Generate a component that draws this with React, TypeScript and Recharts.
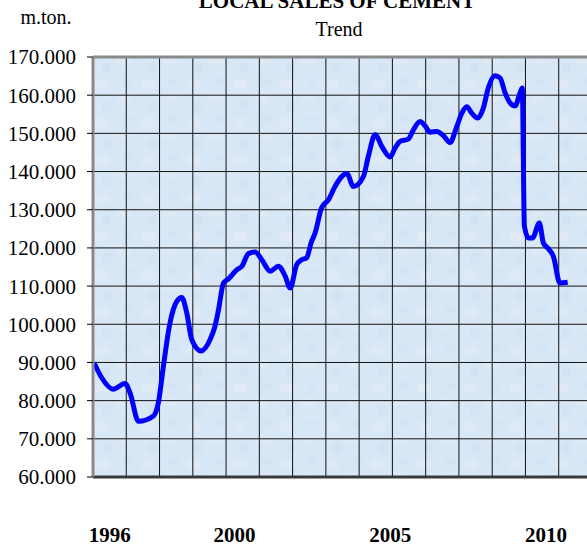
import { LineChart, Line, XAxis, YAxis, CartesianGrid, ReferenceLine } from "recharts";

// time axis, decimal years
const periods = [
  1995.49, 1995.74, 1996.11, 1996.49, 1996.65, 1996.92, 1997.4, 1997.56, 1997.72, 1997.93,
  1998.15, 1998.31, 1998.47, 1998.63, 1998.93, 1999.22, 1999.38, 1999.49, 1999.65, 1999.81,
  2000.08, 2000.24, 2000.45, 2000.66, 2000.88, 2001.15, 2001.41, 2001.63, 2001.79, 2002.0,
  2002.16, 2002.32, 2002.46, 2002.59, 2002.8, 2003.02, 2003.23, 2003.61, 2003.82, 2004.14,
  2004.3, 2004.52, 2004.73, 2005.0, 2005.16, 2005.32, 2005.58, 2005.75, 2005.96, 2006.12,
  2006.28, 2006.5, 2006.71, 2006.92, 2007.14, 2007.3, 2007.46, 2007.62, 2007.81, 2007.99,
  2008.15, 2008.37, 2008.53, 2008.69, 2008.85, 2009.01, 2009.17, 2009.24, 2009.31, 2009.44,
  2009.57, 2009.79, 2009.92, 2010.1, 2010.24, 2010.45, 2010.7,
];

// local sales, m.ton.
const sales = [
  90000, 86000, 83000, 84500, 82000, 74600, 76000, 79500, 89000, 100300,
  106000, 107000, 103000, 96000, 93000, 96000, 99600, 103800, 110800, 111900,
  114300, 115200, 118500, 118900, 116900, 113900, 115200, 112600, 109500, 115600,
  116900, 117400, 121300, 123900, 130500, 132600, 136100, 139500, 136100, 138700,
  144000, 149700, 146600, 143800, 146200, 147900, 148500, 151000, 153100, 152000,
  150300, 150500, 149400, 147600, 151800, 155300, 157000, 155300, 154000, 156600,
  161900, 165100, 164500, 160600, 158000, 157200, 160600, 161900, 125700, 122600,
  122600, 126500, 121300, 119600, 117800, 110800, 111000,
];

const yearTicks = [1996, 2000, 2005, 2010];
const salesTicks = [60000, 70000, 80000, 90000, 100000, 110000, 120000, 130000, 140000, 150000, 160000, 170000];
const GRID_COLS = 15;

const data = periods.map((p, i) => ({ period: p, sales: sales[i] }));

const SERIF = '"Liberation Serif", "Times New Roman", serif';

const fmt = (v: number) => `${Math.floor(v / 1000)}.${String(v % 1000).padStart(3, "0")}`;

export default function App() {
  return (
    <div
      style={{
        position: "absolute",
        left: 0,
        top: 0,
        width: 587,
        height: 549,
        overflow: "hidden",
        background: "#fff",
      }}
    >
      <LineChart width={600} height={549} data={data} margin={{ top: 57, right: 8, bottom: 0, left: 0 }}>
        <defs>
          <pattern id="tex" width="46" height="38" patternUnits="userSpaceOnUse">
            <rect width="46" height="38" fill="#d8e7f5" />
            <rect x="3" y="4" width="14" height="9" rx="4" fill="#dfeaf6" />
            <rect x="24" y="18" width="16" height="8" rx="4" fill="#dee9f6" />
            <rect x="10" y="25" width="9" height="10" rx="4" fill="#d3e3f3" />
            <rect x="31" y="2" width="10" height="7" rx="3" fill="#d4e4f4" />
          </pattern>
        </defs>
        <XAxis
          type="number"
          dataKey="period"
          domain={[1995.46, 2011.48]}
          allowDataOverflow
          ticks={yearTicks}
          axisLine={false}
          tickLine={false}
          tickSize={0}
          tickMargin={50}
          height={72}
          tick={{ fontFamily: SERIF, fontSize: 21, fontWeight: "bold", fill: "#000" }}
        />
        <YAxis
          width={93}
          domain={[60000, 170000]}
          ticks={salesTicks}
          tickFormatter={fmt}
          tickSize={6}
          tickMargin={11}
          axisLine={{ stroke: "#8a8a8a", strokeWidth: 3 }}
          tickLine={{ stroke: "#000" }}
          tick={{ fontFamily: SERIF, fontSize: 21, fill: "#000" }}
        />
        <CartesianGrid
          stroke="#111"
          strokeWidth={1}
          fill="url(#tex)"
          fillOpacity={1}
          verticalCoordinatesGenerator={({ offset }: any) =>
            Array.from({ length: GRID_COLS + 1 }, (_, i) => offset.left + (i * offset.width) / GRID_COLS)
          }
        />
        <ReferenceLine y={170000} stroke="#8a8a8a" strokeWidth={3} />
        <ReferenceLine y={60000} stroke="#3a3a3a" strokeWidth={3} />
        <Line
          type="monotone"
          dataKey="sales"
          stroke="#0000ff"
          strokeWidth={5}
          dot={false}
          isAnimationActive={false}
        />
      </LineChart>
      <svg
        width={587}
        height={60}
        style={{ position: "absolute", left: 0, top: 0, pointerEvents: "none" }}
      >
        <text x={337} y={7.5} textAnchor="middle" fontFamily={SERIF} fontSize={21} fontWeight="bold" fill="#000">
          LOCAL SALES OF CEMENT
        </text>
        <text x={339} y={36} textAnchor="middle" fontFamily={SERIF} fontSize={20} fill="#000">
          Trend
        </text>
        <text x={20.5} y={24} fontFamily={SERIF} fontSize={20} fill="#000">
          m.ton.
        </text>
      </svg>
    </div>
  );
}
